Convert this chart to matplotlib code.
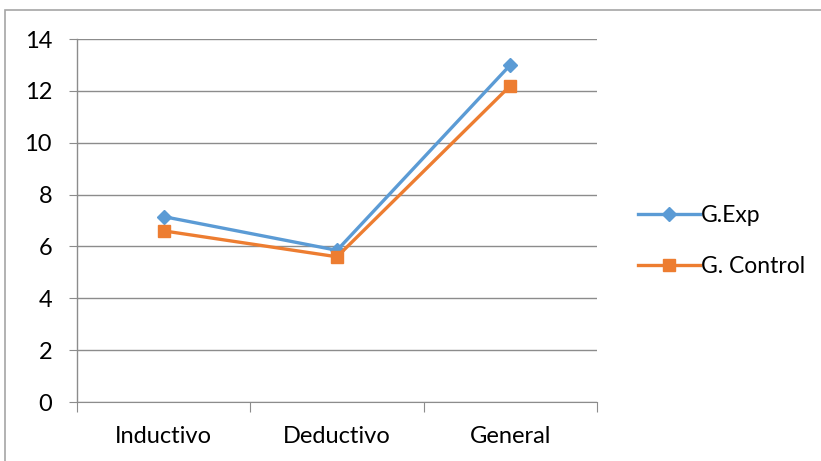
import matplotlib
matplotlib.use("Agg")
import matplotlib.pyplot as plt
from matplotlib.patches import Rectangle
from matplotlib.lines import Line2D

categories = ["Inductivo", "Deductivo", "General"]
g_exp = [7.15, 5.85, 13.0]
g_control = [6.6, 5.6, 12.2]
series_names = ["G.Exp", "G. Control"]
y_ticks = [0, 2, 4, 6, 8, 10, 12, 14]

W, H = 821, 461
plt.rcParams["font.family"] = ["Lato", "DejaVu Sans"]

fig = plt.figure(figsize=(W / 100, H / 100), dpi=100)
fig.patch.set_facecolor("white")

# chart frame
fig.add_artist(Rectangle((5 / W, -0.1), 1.2, 1 - 10 / H + 0.1,
                         transform=fig.transFigure, fill=False,
                         edgecolor="#a6a6a6", linewidth=1.2))

ax = fig.add_axes([77 / W, 1 - 402 / H, (597 - 77) / W, (402 - 39) / H])
x = list(range(len(categories)))
blue = "#5B9BD5"
orange = "#ED7D31"
ax.plot(x, g_exp, color=blue, lw=2.4, marker="D", ms=7.5, label=series_names[0], zorder=3)
ax.plot(x, g_control, color=orange, lw=2.4, marker="s", ms=9, label=series_names[1], zorder=4)

ax.set_xlim(-0.5, len(categories) - 0.5)
ax.set_ylim(0, 14)
ax.set_yticks(y_ticks)
ax.set_yticklabels([str(v) for v in y_ticks], fontsize=17)
ax.grid(axis="y", color="#8c8c8c", lw=1)
ax.set_axisbelow(True)
for s in ["top", "right", "left"]:
    ax.spines[s].set_visible(False)
ax.spines["bottom"].set_color("#8c8c8c")
ax.tick_params(axis="y", length=6, color="#8c8c8c", pad=12, labelcolor="black")

ax.set_xticks([-0.5, 0.5, 1.5, 2.5])
ax.set_xticklabels([])
ax.set_xticks(x, minor=True)
ax.set_xticklabels(categories, minor=True, fontsize=17)
ax.tick_params(axis="x", which="major", length=7, color="#8c8c8c")
ax.tick_params(axis="x", which="minor", length=0, pad=17)

# vertical axis line
ax.plot([-0.5, -0.5], [0, 14], color="#8c8c8c", lw=1, clip_on=False, zorder=1)

handles = [Line2D([], [], color=blue, lw=2.4, marker="D", ms=7.5),
           Line2D([], [], color=orange, lw=2.4, marker="s", ms=9)]
fig.legend(handles, series_names, loc="center left",
           bbox_to_anchor=(617 / W, 1 - 241 / H), frameon=False,
           fontsize=16.5, handlelength=2.7, handletextpad=0.05,
           labelspacing=1.3)

fig.savefig("out.png", dpi=100)
